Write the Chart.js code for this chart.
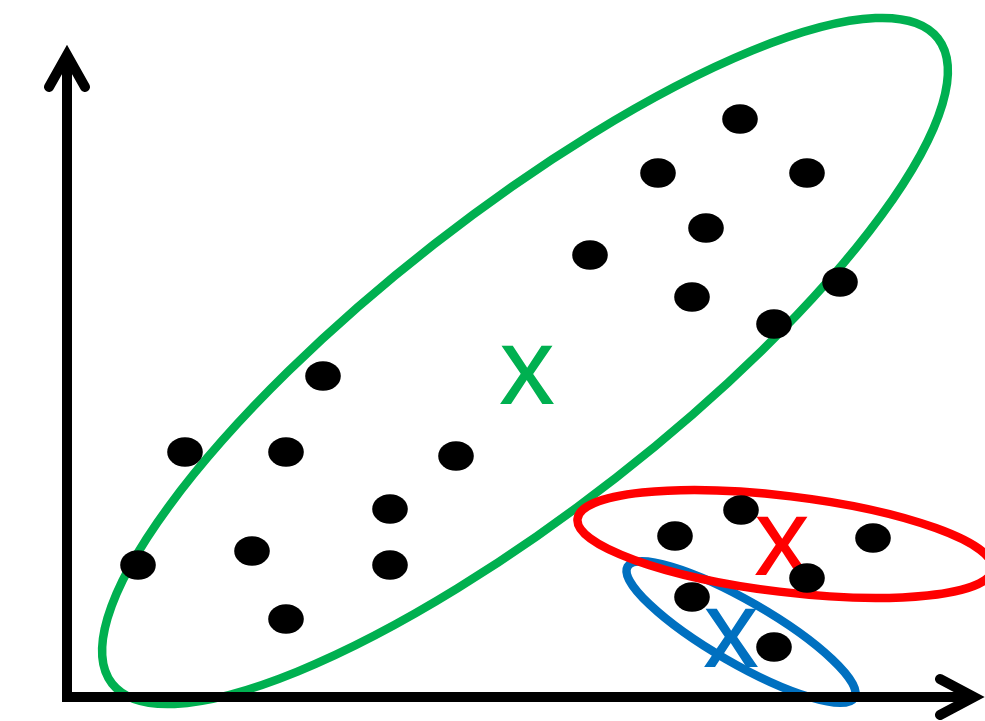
<!DOCTYPE html>
<html>

<head>
  <title>Clusters</title>
  <script src="https://cdn.jsdelivr.net/npm/chart.js"></script>
  <style>
    body { margin: 0; background: #fff; }
    #wrap { position: relative; width: 985px; height: 721px; }
  </style>
</head>

<body>
  <div id="wrap"><canvas id="myChart"></canvas></div>
  <script>
    // points (origin = corner of the two axes, y up)
    var pointX = [673, 591, 740, 639, 523, 625, 773, 707, 256, 118, 219, 389, 323, 185, 71, 323, 219, 608, 674, 806, 740, 625, 707];
    var pointY = [578, 524, 524, 469, 442, 400, 415, 373, 321, 245, 245, 241, 188, 146, 132, 132, 78, 161, 187, 159, 119, 100, 50];

    // cluster outlines: centre, semi axes, tilt in degrees (screen, clockwise)
    var clusterNames = ['green', 'blue', 'red'];
    var clusterCx = [458, 674, 718];
    var clusterCy = [336, 65, 153];
    var clusterA = [524, 131, 209];
    var clusterB = [148, 31, 48];
    var clusterTilt = [-38, 30, 6.9];

    // centroid markers
    var markText = ['X', 'X', 'X'];
    var markX = [460, 664, 715];
    var markY = [323, 60, 152];

    var colors = { green: '#00B050', blue: '#0070C0', red: '#FF0000' };

    // black dot, a little wider than tall
    var dot = document.createElement('canvas');
    dot.width = 36;
    dot.height = 30;
    var dctx = dot.getContext('2d');
    dctx.fillStyle = '#000';
    dctx.beginPath();
    dctx.ellipse(18, 15, 17.8, 14.8, 0, 0, Math.PI * 2);
    dctx.fill();

    var drawing = {
      id: 'drawing',
      beforeDatasetsDraw: function (chart) {
        var c = chart.ctx, xs = chart.scales.x, ys = chart.scales.y;
        var kx = xs.getPixelForValue(1) - xs.getPixelForValue(0);
        var ky = ys.getPixelForValue(0) - ys.getPixelForValue(1);
        c.save();

        // cluster ellipses
        c.lineWidth = 8.5;
        clusterNames.forEach(function (n, i) {
          c.strokeStyle = colors[n];
          c.beginPath();
          c.ellipse(xs.getPixelForValue(clusterCx[i]), ys.getPixelForValue(clusterCy[i]),
            clusterA[i] * kx, clusterB[i] * ky, clusterTilt[i] * Math.PI / 180, 0, Math.PI * 2);
          c.stroke();
        });

        // axes with arrow heads
        var ox = xs.getPixelForValue(0), oy = ys.getPixelForValue(0);
        var xt = xs.getPixelForValue(xs.max) - 11, yt = ys.getPixelForValue(ys.max) + 55;
        c.strokeStyle = '#000';
        c.lineWidth = 10;
        c.lineCap = 'butt';
        c.beginPath();
        c.moveTo(ox - 5, oy);
        c.lineTo(xt, oy);
        c.moveTo(ox, oy + 5);
        c.lineTo(ox, yt);
        c.stroke();
        c.lineCap = 'round';
        c.lineJoin = 'miter';
        c.beginPath();
        c.moveTo(xt - 34, oy - 18);
        c.lineTo(xt, oy);
        c.lineTo(xt - 34, oy + 18);
        c.moveTo(ox - 18, yt + 32);
        c.lineTo(ox, yt);
        c.lineTo(ox + 18, yt + 32);
        c.stroke();

        // X markers
        c.font = '600 82px "Open Sans"';
        c.textAlign = 'center';
        c.textBaseline = 'alphabetic';
        markText.forEach(function (t, i) {
          c.fillStyle = colors[clusterNames[i]];
          var px = xs.getPixelForValue(markX[i]), py = ys.getPixelForValue(markY[i]);
          c.save();
          c.translate(px, py + 29.5);
          c.scale(1.06, 1);
          c.fillText(t, 0, 0);
          c.restore();
        });
        c.restore();
      }
    };

    var ctx = document.getElementById('myChart').getContext('2d');
    var chart = new Chart(ctx, {
      type: 'scatter',
      data: {
        datasets: [{
          label: 'points',
          data: pointX.map(function (x, i) { return { x: x, y: pointY[i] }; }),
          pointStyle: dot,
          pointRadius: 18,
          pointHoverRadius: 18
        }]
      },
      options: {
        responsive: true,
        maintainAspectRatio: false,
        animation: false,
        layout: { padding: 0, autoPadding: false },
        plugins: {
          legend: { display: false },
          tooltip: { enabled: false }
        },
        scales: {
          x: { type: 'linear', min: -67, max: 918, display: false },
          y: { type: 'linear', min: -24, max: 697, display: false }
        }
      },
      plugins: [drawing]
    });
  </script>
</body>

</html>
